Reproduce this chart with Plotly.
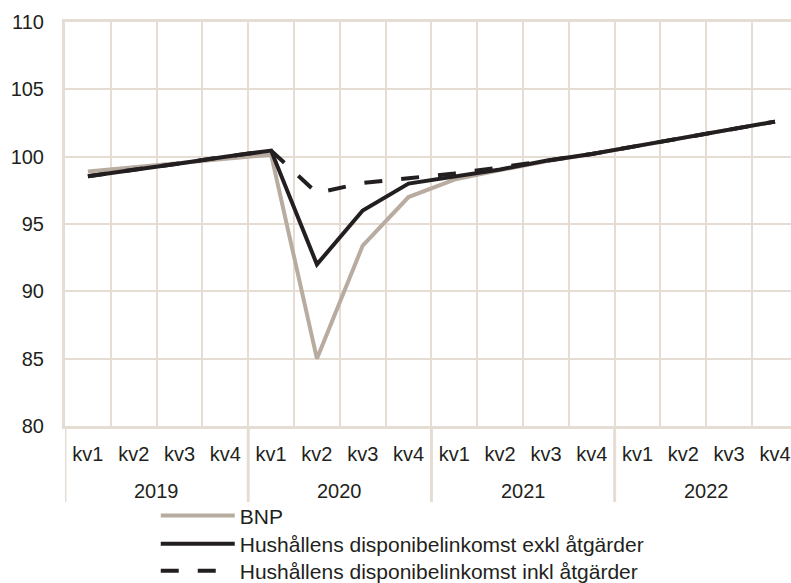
import plotly.graph_objects as go

years = ["2019", "2020", "2021", "2022"]
quarters = ["kv1", "kv2", "kv3", "kv4"]
quarter_labels = quarters * len(years)

bnp = [98.9, 99.2, 99.5, 99.85, 100.15, 85.0, 93.4, 97.0,
       98.3, 99.0, 99.65, 100.2, 100.8, 101.4, 102.0, 102.6]
disp_exkl = [98.55, 99.0, 99.5, 100.0, 100.45, 92.0, 96.0, 98.0,
             98.5, 99.05, 99.7, 100.2, 100.8, 101.4, 102.0, 102.6]
disp_inkl = [98.55, 99.0, 99.5, 100.0, 100.45, 97.3, 98.05, 98.4,
             98.75, 99.2, 99.7, 100.2, 100.8, 101.4, 102.0, 102.6]

names = ["BNP",
         "Hushållens disponibelinkomst exkl åtgärder",
         "Hushållens disponibelinkomst inkl åtgärder"]

BLACK = "#231f20"
BEIGE = "#b8aba0"
GRID = "#e5ddd4"
FONT = "Liberation Sans, Arial, sans-serif"

n = len(quarter_labels)
xs = list(range(n))
nq = len(quarters)

fig = go.Figure()
fig.add_trace(go.Scatter(x=xs, y=bnp, name=names[0], mode="lines",
                         line=dict(color=BEIGE, width=4), legend="legend"))
fig.add_trace(go.Scatter(x=xs, y=disp_inkl, name=names[2], mode="lines",
                         line=dict(color=BLACK, width=4, dash="18px,19px"),
                         legend="legend3"))
fig.add_trace(go.Scatter(x=xs, y=disp_exkl, name=names[1], mode="lines",
                         line=dict(color=BLACK, width=4), legend="legend2"))

# year labels and dividers from the category structure
annotations = []
shapes = []
for i, yr in enumerate(years):
    annotations.append(dict(x=i * nq + (nq - 1) / 2, y=-0.161, xref="x", yref="paper",
                            text=yr, showarrow=False, yanchor="middle",
                            font=dict(size=20, color=BLACK)))
    shapes.append(dict(type="line", xref="x", yref="paper",
                       x0=i * nq - 0.5, x1=i * nq - 0.5, y0=0, y1=-0.188,
                       line=dict(color=GRID, width=3)))

leg_common = dict(x=0.125, xanchor="left", yanchor="middle", itemwidth=74,
                  font=dict(size=21, color=BLACK), bgcolor="rgba(0,0,0,0)")

fig.update_layout(
    width=791, height=600,
    margin=dict(l=65, r=0, t=22, b=174),
    paper_bgcolor="white", plot_bgcolor="white",
    font=dict(family=FONT, size=20, color=BLACK),
    showlegend=True,
    legend=dict(y=-0.2227, **leg_common),
    legend2=dict(y=-0.2921, **leg_common),
    legend3=dict(y=-0.3589, **leg_common),
    annotations=annotations,
    shapes=shapes,
    xaxis=dict(range=[-0.5, n - 0.65], tickmode="array", tickvals=xs,
               ticktext=quarter_labels, showgrid=False,
               minor=dict(tickmode="array", tickvals=[k - 0.5 for k in range(n + 1)],
                          showgrid=True, gridcolor=GRID, gridwidth=2, ticks=""),
               showline=True, linecolor=GRID, linewidth=3, mirror=True,
               ticks="", ticklabelstandoff=8, zeroline=False, automargin=False,
               tickfont=dict(size=20, color=BLACK)),
    yaxis=dict(range=[80, 110], dtick=5, showgrid=True, gridcolor=GRID, gridwidth=2,
               showline=True, linecolor=GRID, linewidth=3, zeroline=False,
               ticks="", ticklabelstandoff=14, automargin=False,
               tickfont=dict(size=20, color=BLACK)),
)

fig.write_html("out.html",
               config={"displayModeBar": False},
               post_script="document.body.style.margin='0';"
                           "document.body.style.overflow='hidden';")
